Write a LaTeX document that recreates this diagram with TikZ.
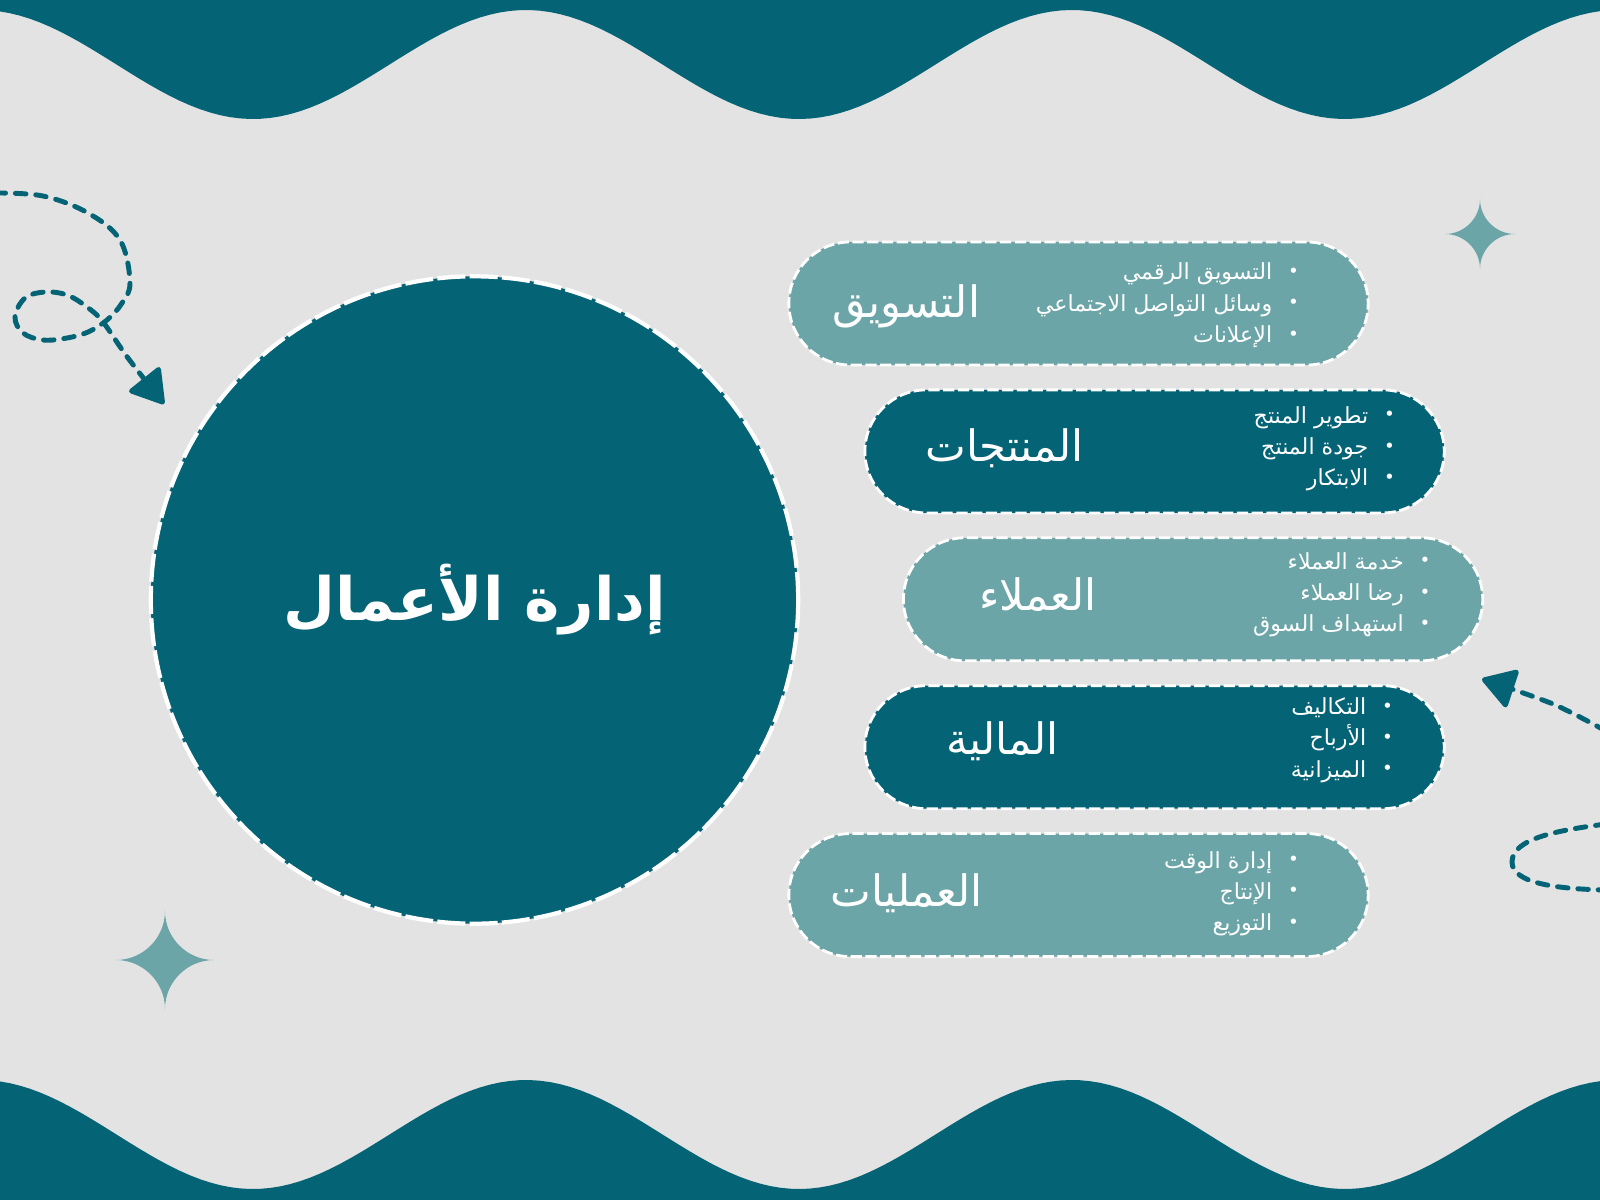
\documentclass[tikz,border=0pt]{standalone}
\usepackage{fontspec}
\newfontfamily\arabicfont[Script=Arabic]{DejaVu Sans}
\TeXXeTstate=1
\usetikzlibrary{positioning,arrows.meta}
\definecolor{deepteal}{HTML}{046375}
\definecolor{softteal}{HTML}{6BA5A7}
\definecolor{paper}{HTML}{E3E3E3}
\newcommand{\rtl}[1]{\beginR#1\endR}
\newcommand{\bullitem}[1]{\beginR\raisebox{0.7pt}{\fontsize{5.2}{5.2}\selectfont\textbullet}\hspace{4.5pt}#1\endR}

\begin{document}
\begin{tikzpicture}[x=0.01cm, y=-0.01cm,
        pill/.style={rectangle, rounded corners=0.615cm, minimum width=5.79cm,
            minimum height=1.23cm, draw=white, line width=0.8pt,
            dash pattern=on 3.2pt off 1pt, inner sep=0pt},
        lightpill/.style={pill, fill=softteal},
        darkpill/.style={pill, fill=deepteal},
        heading/.style={text=white, inner sep=0pt,
            font=\arabicfont\fontsize{12.3}{14}\selectfont},
        points/.style={text=white, inner sep=0pt, align=right, anchor=east,
            font=\arabicfont\fontsize{6.3}{8.9}\selectfont},
        trail/.style={draw=deepteal, line width=1.4pt, line cap=round,
            dash pattern=on 3pt off 2.8pt},
        headtip/.style={-{Triangle[length=10pt, width=12pt, round]}}]
\useasboundingbox (0,0) rectangle (1600,1200);
\fill[paper] (0,0) rectangle (1600,1200);

\fill[deepteal] (0,0) -- plot[domain=0:1600, samples=161] (\x,{64.5+54.5*cos(0.65934*(\x-253))}) -- (1600,0) -- cycle;
\fill[deepteal] (0,1200) -- plot[domain=0:1600, samples=161] (\x,{1134.5+54.5*cos(0.65934*(\x-253))}) -- (1600,1200) -- cycle;

\foreach \cx/\cy/\r in {1480/234/35, 165/960/49}{
  \fill[softteal, shift={(\cx,\cy)}] (0,-\r) .. controls (0,-0.45*\r) and (0.45*\r,0) .. (\r,0)
    .. controls (0.45*\r,0) and (0,0.45*\r) .. (0,\r)
    .. controls (0,0.45*\r) and (-0.45*\r,0) .. (-\r,0)
    .. controls (-0.45*\r,0) and (0,-0.45*\r) .. (0,-\r) -- cycle;
}

\draw[trail, headtip] plot[smooth, tension=0.6] coordinates {(-5,193) (43,196) (88,213) (120,240) (130,282) (122,303) (107,320) (88,332) (67,338) (43,340) (23,333) (15,317) (25,298) (45,292) (67,295) (87,307) (103,322) (128,358) (164,404)};
\draw[trail, headtip] plot[smooth] coordinates {(1606,731) (1553,704) (1482,679)};
\draw[trail] (1606,824) .. controls (1560,830) and (1512,838) .. (1512,862)
    .. controls (1512,884) and (1560,889) .. (1606,890);

\node[circle, fill=deepteal, draw=white, line width=1.2pt, dash pattern=on 8pt off 1.2pt,
    minimum size=6.47cm, inner sep=0pt, text=white,
    font=\arabicfont\bfseries\fontsize{17}{20}\selectfont] (core) at (474.5,600) {\rtl{إدارة الأعمال}};

\node[lightpill] (marketing) at (1078.5,303.5) {};
\node[darkpill, below=0.22cm of marketing, xshift=0.76cm] (products) {};
\node[lightpill, below=0.22cm of products, xshift=0.385cm] (clients) {};
\node[darkpill, below=0.22cm of clients, xshift=-0.385cm] (finance) {};
\node[lightpill, below=0.22cm of finance, xshift=-0.76cm] (operations) {};

\node[heading] (marketing-title) at ([xshift=1.19cm, yshift=-0.03cm]marketing.west) {\rtl{التسويق}};
\node[heading] (products-title) at ([xshift=1.41cm, yshift=0.03cm]products.west) {\rtl{المنتجات}};
\node[heading] (clients-title) at ([xshift=1.36cm, yshift=0.05cm]clients.west) {\rtl{العملاء}};
\node[heading] (finance-title) at ([xshift=1.39cm, yshift=0.06cm]finance.west) {\rtl{المالية}};
\node[heading] (operations-title) at ([xshift=1.19cm, yshift=0.02cm]operations.west) {\rtl{العمليات}};

\node[points] (marketing-list) at ([xshift=-0.70cm, yshift=-0.02cm]marketing.east) {\bullitem{التسويق الرقمي}\\\bullitem{وسائل التواصل الاجتماعي}\\\bullitem{الإعلانات}};
\node[points] (products-list) at ([xshift=-0.50cm, yshift=0.025cm]products.east) {\bullitem{تطوير المنتج}\\\bullitem{جودة المنتج}\\\bullitem{الابتكار}};
\node[points] (clients-list) at ([xshift=-0.53cm, yshift=0.045cm]clients.east) {\bullitem{خدمة العملاء}\\\bullitem{رضا العملاء}\\\bullitem{استهداف السوق}};
\node[points] (finance-list) at ([xshift=-0.52cm, yshift=0.07cm]finance.east) {\bullitem{التكاليف}\\\bullitem{الأرباح}\\\bullitem{الميزانية}};
\node[points] (operations-list) at ([xshift=-0.70cm, yshift=0.015cm]operations.east) {\bullitem{إدارة الوقت}\\\bullitem{الإنتاج}\\\bullitem{التوزيع}};
\end{tikzpicture}
\end{document}
